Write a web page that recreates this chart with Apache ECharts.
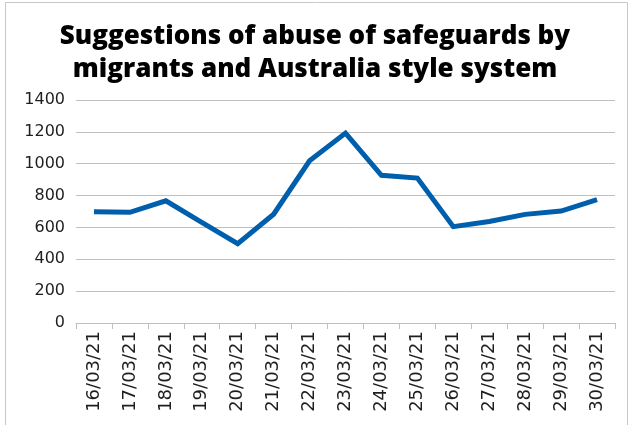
<!DOCTYPE html>
<html>
<head>
<meta charset="utf-8">
<script src="https://cdn.jsdelivr.net/npm/echarts@6/dist/echarts.min.js"></script>
<style>
  html, body { margin: 0; padding: 0; background: #fff; }
  #chart { width: 630px; height: 425px; }
</style>
</head>
<body>
<div id="chart"></div>
<script>
// dates on the x axis
const days = ['16/03/21', '17/03/21', '18/03/21', '19/03/21', '20/03/21',
  '21/03/21', '22/03/21', '23/03/21', '24/03/21', '25/03/21',
  '26/03/21', '27/03/21', '28/03/21', '29/03/21', '30/03/21'];
const mentions = [698, 695, 767, 632, 498, 683, 1018, 1192, 927, 910, 605, 637, 682, 703, 775];

const myChart = echarts.init(document.getElementById('chart'));
const option = {
  backgroundColor: '#fff',
  animation: false,
  title: {
    text: 'Suggestions of abuse of safeguards by\nmigrants and Australia style system',
    left: 'center',
    top: 15,
    textStyle: {
      fontFamily: 'Open Sans',
      fontWeight: 800,
      fontSize: 26,
      lineHeight: 33,
      color: '#000'
    }
  },
  graphic: [{
    type: 'rect',
    shape: { x: 5.5, y: 2.5, width: 622, height: 440 },
    style: { fill: 'none', stroke: '#c8c8c8', lineWidth: 1 },
    silent: true
  }],
  grid: { left: 76, right: 15, top: 100, bottom: 102 },
  xAxis: {
    type: 'category',
    data: days,
    boundaryGap: true,
    axisLine: { lineStyle: { color: '#bfbfbf', width: 1 } },
    axisTick: { show: true, length: 6, lineStyle: { color: '#bfbfbf' } },
    axisLabel: {
      rotate: 90,
      interval: 0,
      margin: 8,
      fontFamily: 'DejaVu Sans',
      fontSize: 18,
      color: '#1e1e1e'
    }
  },
  yAxis: {
    type: 'value',
    min: 0,
    max: 1400,
    interval: 200,
    axisLine: { show: false },
    axisTick: { show: false },
    splitLine: { lineStyle: { color: '#bfbfbf', width: 1 } },
    axisLabel: {
      margin: 11,
      fontFamily: 'DejaVu Sans',
      fontSize: 16,
      color: '#1e1e1e',
      formatter: v => String(v)
    }
  },
  series: [{
    name: 'Suggestions',
    type: 'line',
    data: mentions,
    symbol: 'none',
    lineStyle: { color: '#005fad', width: 5, join: 'miter' }
  }]
};
myChart.setOption(option);
</script>
</body>
</html>
